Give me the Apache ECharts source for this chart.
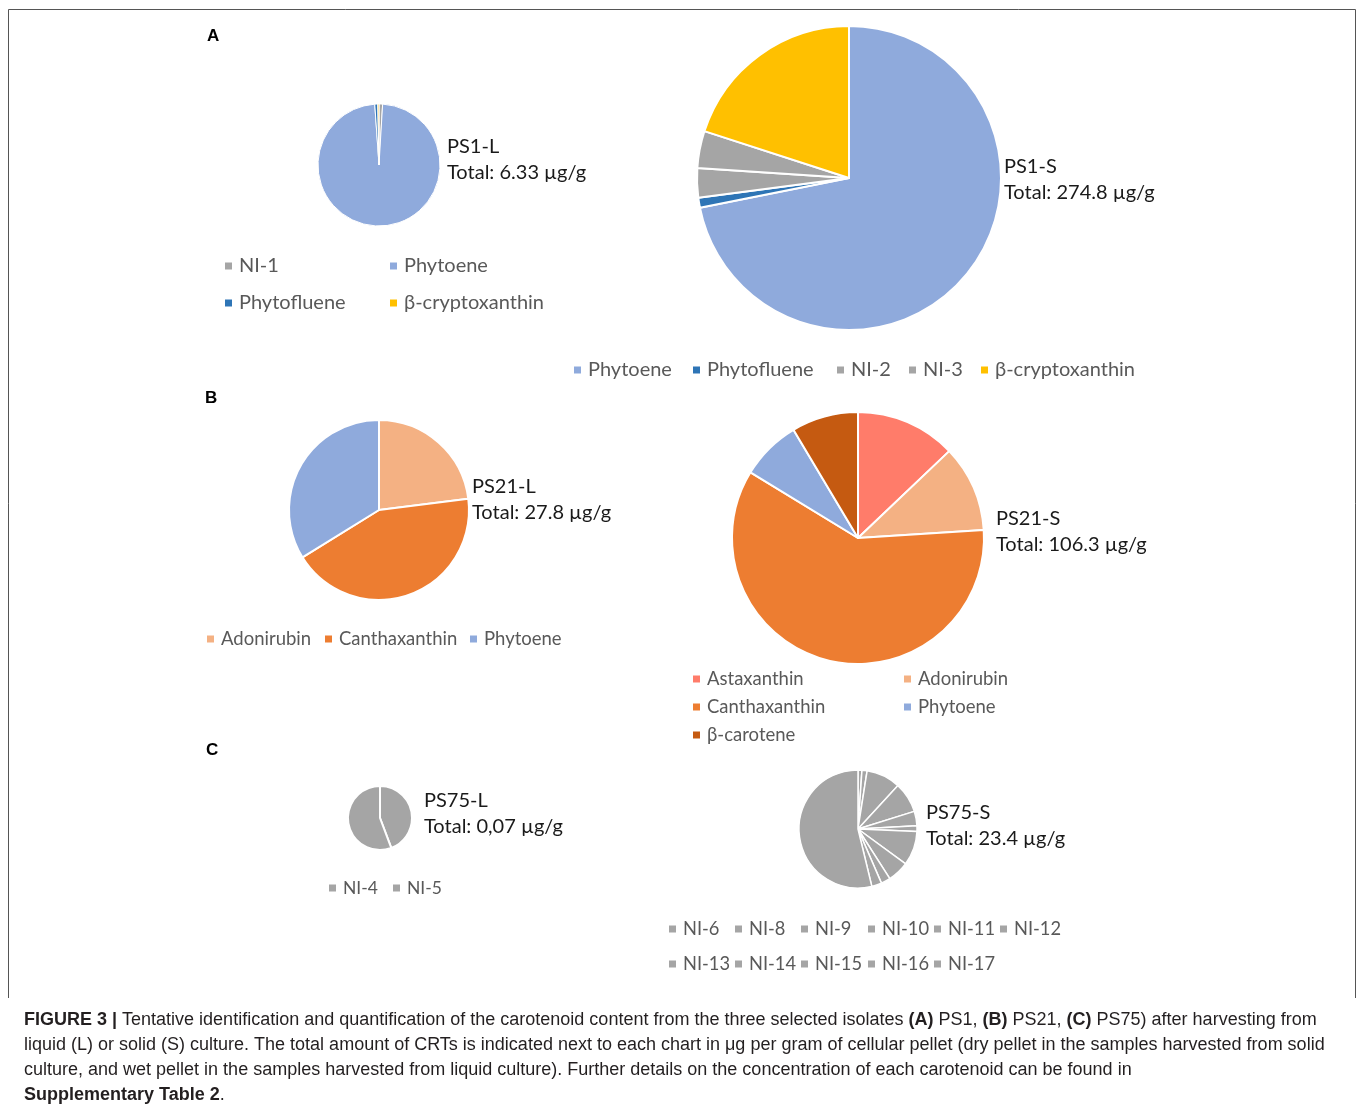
<!DOCTYPE html>
<html>
<head>
<meta charset="utf-8">
<script src="https://cdn.jsdelivr.net/npm/echarts@6/dist/echarts.min.js"></script>
<style>
html,body{margin:0;padding:0;background:#fff;}
#chart{width:1358px;height:1109px;}
</style>
</head>
<body>
<div id="chart"></div>
<script>
// ---------- DATA ----------
const ps1LNames = ['NI-1', 'Phytoene', 'Phytofluene', 'β-cryptoxanthin'];
const ps1LValues = [0.06, 6.20, 0.05, 0.02];
const ps1SNames = ['Phytoene', 'Phytofluene', 'NI-2', 'NI-3', 'β-cryptoxanthin'];
const ps1SValues = [197.5, 2.9, 8.6, 10.8, 55.0];
const ps21LNames = ['Adonirubin', 'Canthaxanthin', 'Phytoene'];
const ps21LValues = [6.4, 12.0, 9.4];
const ps21SNames = ['Astaxanthin', 'Adonirubin', 'Canthaxanthin', 'Phytoene', 'β-carotene'];
const ps21SValues = [13.7, 11.8, 63.5, 8.2, 9.1];
const ps75LNames = ['NI-4', 'NI-5'];
const ps75LValues = [0.031, 0.039];
const ps75SNames = ['NI-6', 'NI-8', 'NI-9', 'NI-10', 'NI-11', 'NI-12', 'NI-13', 'NI-14', 'NI-15', 'NI-16', 'NI-17'];
const ps75SValues = [0.25, 0.33, 2.19, 1.95, 0.93, 0.36, 2.19, 1.38, 0.60, 0.64, 12.58];
const chartTitles = ['PS1-L', 'PS1-S', 'PS21-L', 'PS21-S', 'PS75-L', 'PS75-S'];
const chartTotals = ['Total: 6.33 µg/g', 'Total: 274.8 µg/g', 'Total: 27.8 µg/g', 'Total: 106.3 µg/g', 'Total: 0,07 µg/g', 'Total: 23.4 µg/g'];
const panelLetters = ['A', 'B', 'C'];

// ---------- STYLE ----------
const colorMap = {
  'Phytoene': '#8FAADC', 'Phytofluene': '#2E75B6', 'β-cryptoxanthin': '#FFC000',
  'Adonirubin': '#F4B183', 'Canthaxanthin': '#ED7D31', 'Astaxanthin': '#FF7C6A',
  'β-carotene': '#C55A11'
};
const grey = '#A5A5A5';
const colorOf = n => colorMap[n] || grey;

const labelFont = 'Lato, "Noto Sans", sans-serif';
const capFont = '"Liberation Sans", Arial, sans-serif';

function pie(names, values, cx, cy, r, bw) {
  return {
    type: 'pie', center: [cx, cy], radius: r, startAngle: 90, clockwise: true,
    label: { show: false }, labelLine: { show: false }, silent: true,
    itemStyle: { borderColor: '#fff', borderWidth: bw },
    emphasis: { disabled: true },
    data: names.map((n, i) => ({ name: n, value: values[i], itemStyle: { color: colorOf(n) } }))
  };
}

// legend items: [name, iconLeftX, centerY, fontSize]
const legendItems = [
  ['NI-1', 223, 266, 20], ['Phytoene', 388, 266, 20], ['Phytofluene', 223, 303, 20], ['β-cryptoxanthin', 388, 303, 20],
  ['Phytoene', 572, 370, 20], ['Phytofluene', 691, 370, 20], ['NI-2', 835, 370, 20], ['NI-3', 907, 370, 20], ['β-cryptoxanthin', 979, 370, 20],
  ['Adonirubin', 205, 639, 18.5], ['Canthaxanthin', 323, 639, 18.5], ['Phytoene', 468, 639, 18.5],
  ['Astaxanthin', 691, 679, 18.5], ['Adonirubin', 902, 679, 18.5], ['Canthaxanthin', 691, 707, 18.5], ['Phytoene', 902, 707, 18.5], ['β-carotene', 691, 735, 18.5],
  ['NI-4', 327, 888, 17.5], ['NI-5', 391, 888, 17.5],
  ['NI-6', 667, 929, 18.3], ['NI-8', 733, 929, 18.3], ['NI-9', 799, 929, 18.3], ['NI-10', 866, 929, 18.3], ['NI-11', 932, 929, 18.3], ['NI-12', 998, 929, 18.3],
  ['NI-13', 667, 964, 18.3], ['NI-14', 733, 964, 18.3], ['NI-15', 799, 964, 18.3], ['NI-16', 866, 964, 18.3], ['NI-17', 932, 964, 18.3]
];

const legends = legendItems.map(([n, x, y, fs]) => ({
  data: [n], left: x, top: y - 11, padding: 0, orient: 'horizontal',
  icon: 'rect', itemWidth: 9, itemHeight: 9, selectedMode: false,
  itemStyle: { color: colorOf(n) },
  textStyle: { fontFamily: labelFont, fontSize: fs, color: '#595959', padding: [0, 0, 0, 1], lineHeight: 22 }
}));

// chart labels [x, y of first line]
const labelPos = [[447, 146], [1004, 166], [472, 486], [996, 518], [424, 800], [926, 812]];
const titles = labelPos.map(([x, y], i) => ({
  text: chartTitles[i] + '\n' + chartTotals[i], left: x, top: y - 13, padding: 0,
  textStyle: { fontFamily: labelFont, fontSize: 20, fontWeight: 'normal', color: '#1a1a1a', lineHeight: 26.5 }
}));
const letterPos = [[207, 35], [205, 397], [206, 749]];
letterPos.forEach(([x, y], i) => titles.push({
  text: panelLetters[i], left: x, top: y - 7, padding: 0,
  textStyle: { fontFamily: capFont, fontSize: 17, fontWeight: 'bold', color: '#000' }
}));

const capLines = [
  '{b|FIGURE 3 |} Tentative identification and quantification of the carotenoid content from the three selected isolates {b|(A)} PS1, {b|(B)} PS21, {b|(C)} PS75) after harvesting from',
  'liquid (L) or solid (S) culture. The total amount of CRTs is indicated next to each chart in μg per gram of cellular pellet (dry pellet in the samples harvested from solid',
  'culture, and wet pellet in the samples harvested from liquid culture). Further details on the concentration of each carotenoid can be found in',
  '{b|Supplementary Table 2}.'
];
const capY = [1020, 1045, 1070, 1095];

const graphics = [
  { type: 'polyline', silent: true, shape: { points: [[8.5, 998], [8.5, 9.5], [1355.5, 9.5], [1355.5, 998]] },
    style: { stroke: '#555', lineWidth: 1, fill: null } }
].concat(capLines.map((t, i) => ({
  type: 'text', left: 24, top: capY[i] - 9, silent: true,
  style: {
    text: t, fill: '#231f20', font: '18px ' + capFont,
    rich: { b: { fontWeight: 'bold', fontFamily: capFont, fontSize: 18, fill: '#231f20' } }
  }
})));

const chart = echarts.init(document.getElementById('chart'), null, { renderer: 'canvas' });
chart.setOption({
  animation: false,
  backgroundColor: '#fff',
  title: titles,
  legend: legends,
  graphic: graphics,
  series: [
    pie(ps1LNames, ps1LValues, 379, 165, 61, 1),
    pie(ps1SNames, ps1SValues, 849, 178, 152, 2),
    pie(ps21LNames, ps21LValues, 379, 510, 90, 2),
    pie(ps21SNames, ps21SValues, 858, 538, 126, 2),
    pie(ps75LNames, ps75LValues, 380, 818, 32, 2),
    pie(ps75SNames, ps75SValues, 858, 829, 59, 1.5)
  ]
});
</script>
</body>
</html>
